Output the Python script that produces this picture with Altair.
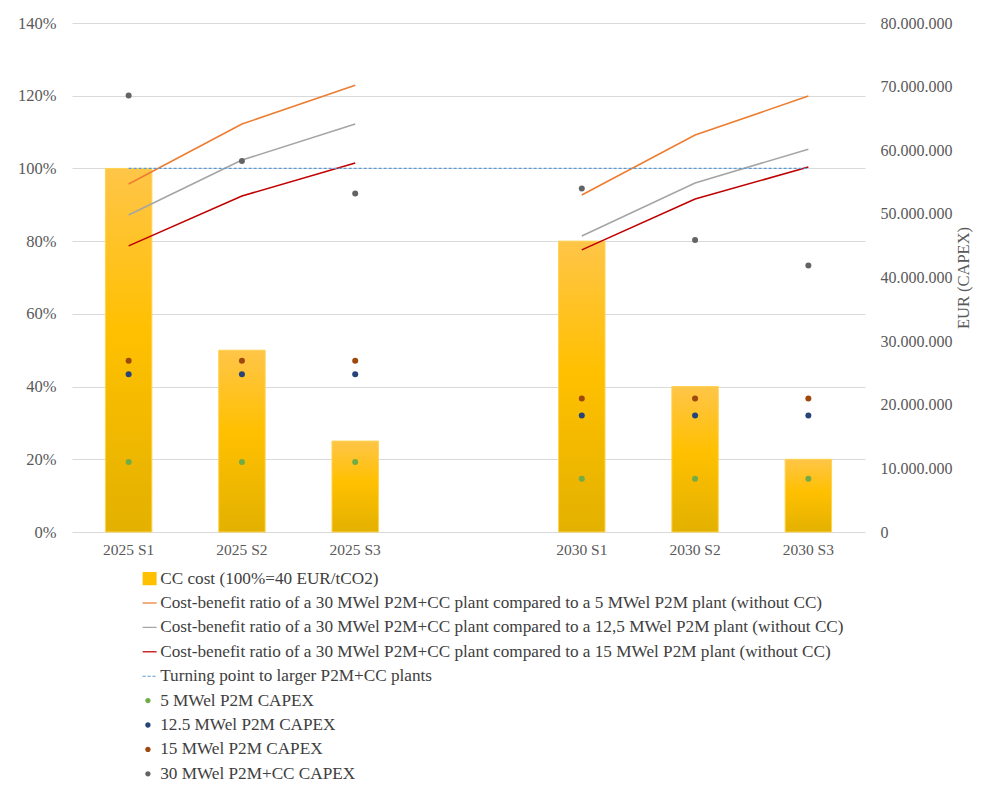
import altair as alt
import pandas as pd

categories = ["2025 S1", "2025 S2", "2025 S3", " ", "2030 S1", "2030 S2", "2030 S3"]
groups = ["2025", "2025", "2025", None, "2030", "2030", "2030"]

cc_cost = [1.00, 0.50, 0.25, None, 0.80, 0.40, 0.20]
ratio_5 = [0.957, 1.122, 1.229, None, 0.927, 1.092, 1.199]
ratio_125 = [0.872, 1.023, 1.122, None, 0.814, 0.960, 1.053]
ratio_15 = [0.787, 0.924, 1.015, None, 0.776, 0.916, 1.004]
turning = [1.0, 1.0, 1.0, 1.0, 1.0, 1.0, 1.0]

capex_5 = [11.0e6, 11.0e6, 11.0e6, None, 8.35e6, 8.35e6, 8.35e6]
capex_125 = [24.8e6, 24.8e6, 24.8e6, None, 18.3e6, 18.3e6, 18.3e6]
capex_15 = [26.9e6, 26.9e6, 26.9e6, None, 21.0e6, 21.0e6, 21.0e6]
capex_30 = [68.6e6, 58.3e6, 53.2e6, None, 54.0e6, 45.9e6, 41.9e6]

names = [
    "CC cost (100%=40 EUR/tCO2)",
    "Cost-benefit ratio of a 30 MWel P2M+CC plant compared to a 5 MWel P2M plant (without CC)",
    "Cost-benefit ratio of a 30 MWel P2M+CC plant compared to a 12,5 MWel P2M plant (without CC)",
    "Cost-benefit ratio of a 30 MWel P2M+CC plant compared to a 15 MWel P2M plant (without CC)",
    "Turning point to larger P2M+CC plants",
    "5 MWel P2M CAPEX",
    "12.5 MWel P2M CAPEX",
    "15 MWel P2M CAPEX",
    "30 MWel P2M+CC CAPEX",
]
colors = ["#FFC000", "#ED7D31", "#A5A5A5", "#C00000", "#5B9BD5",
          "#70AD47", "#264478", "#9E480E", "#636363"]

sq = "M-1,-0.95H1V0.95H-1Z"
ln = "M-1,-0.09H1V0.09H-1Z"
dash = "M-1,-0.08H-0.55V0.08H-1Z M-0.3,-0.08H0.15V0.08H-0.3Z M0.4,-0.08H0.85V0.08H0.4Z"
dot = "M-0.62,0A0.38,0.38 0 1,1 0.14,0A0.38,0.38 0 1,1 -0.62,0Z"
shapes = [sq, ln, ln, ln, dash, dot, dot, dot, dot]

FONT = "Liberation Serif"
GREY = "#595959"

bars_df = pd.DataFrame({"cat": categories, "val": cc_cost}).dropna()

line_rows = []
for nm, vals in zip(names[1:4], [ratio_5, ratio_125, ratio_15]):
    for c, g, v in zip(categories, groups, vals):
        if v is not None:
            line_rows.append({"cat": c, "grp": g, "series": nm, "val": v})
lines_df = pd.DataFrame(line_rows)

turn_df = pd.DataFrame({"cat": categories, "val": turning, "series": names[4]})

pt_rows = []
for nm, vals in zip(names[5:], [capex_5, capex_125, capex_15, capex_30]):
    for c, v in zip(categories, vals):
        if v is not None:
            pt_rows.append({"cat": c, "series": nm, "eur": v})
pts_df = pd.DataFrame(pt_rows)

legend_df = pd.DataFrame({"series": names, "cat": categories[3], "val": 0.0})

x_enc = alt.X("cat:N", sort=categories,
              scale=alt.Scale(domain=categories, paddingInner=0.59, paddingOuter=0.295),
              axis=alt.Axis(title=None, labelAngle=0, domain=False, ticks=False,
                            labelPadding=10, labelFontSize=15.5))
y_left = alt.Y("val:Q", scale=alt.Scale(domain=[0, 1.4], nice=False),
               axis=alt.Axis(title=None, format=".0%", values=[0, 0.2, 0.4, 0.6, 0.8, 1.0, 1.2, 1.4],
                             grid=True, gridColor="#D9D9D9", domain=False, ticks=False,
                             labelPadding=16, labelFontSize=16.5))

gradient = alt.Gradient(
    gradient="linear",
    stops=[alt.GradientStop(color="#FFC548", offset=0),
           alt.GradientStop(color="#FFC000", offset=0.45),
           alt.GradientStop(color="#E3B100", offset=1)],
    x1=0, x2=0, y1=0, y2=1,
)

bars = alt.Chart(bars_df).mark_bar(color=gradient, stroke="#FFD34F", strokeWidth=1).encode(
    x=x_enc, y=y_left)

stroke_scale = alt.Scale(domain=names[1:5], range=colors[1:5])
fill_scale = alt.Scale(domain=names[5:], range=colors[5:])

lines = alt.Chart(lines_df).mark_line(strokeWidth=1.6).encode(
    x=x_enc, y="val:Q",
    stroke=alt.Stroke("series:N", scale=stroke_scale, legend=None),
    detail="grp:N")

turn = alt.Chart(turn_df).mark_line(strokeWidth=1.3, strokeDash=[3, 2]).encode(
    x=x_enc, y="val:Q",
    stroke=alt.Stroke("series:N", scale=stroke_scale, legend=None))

leg = alt.Legend(title=None, orient="none", legendX=69, legendY=547,
                 direction="vertical", symbolSize=196, symbolOpacity=1,
                 symbolStrokeWidth=0, labelFont=FONT, labelFontSize=17.2,
                 labelColor="#404040", labelOffset=2, rowPadding=6.4,
                 padding=0, labelLimit=900)

legend_layer = alt.Chart(legend_df).mark_point(filled=True, opacity=0).encode(
    x=x_enc, y="val:Q",
    color=alt.Color("series:N", scale=alt.Scale(domain=names, range=colors), legend=leg),
    shape=alt.Shape("series:N", scale=alt.Scale(domain=names, range=shapes), legend=leg))

left = alt.layer(bars, lines, turn, legend_layer)

points = alt.Chart(pts_df).mark_circle(size=36, opacity=1).encode(
    x=x_enc,
    y=alt.Y("eur:Q", scale=alt.Scale(domain=[0, 80e6], nice=False),
            axis=alt.Axis(orient="right", title="EUR (CAPEX)", format=",.0f",
                          values=[i * 10e6 for i in range(9)], grid=False,
                          domain=False, ticks=False, labelPadding=15,
                          titleAngle=270, titlePadding=19, titleFontWeight="normal",
                          titleFont=FONT, titleFontSize=16.5, titleColor=GREY)),
    fill=alt.Fill("series:N", scale=fill_scale, legend=None))

chart = alt.layer(left, points).resolve_scale(y="independent").properties(
    width=793, height=509,
    padding={"left": 64, "top": 15, "right": 109, "bottom": 260},
    autosize=alt.AutoSizeParams(type="none"),
).configure(
    locale={"number": {"decimal": ",", "thousands": ".", "grouping": [3], "currency": ["", " €"]}}
).configure_view(stroke=None).configure_axis(
    labelFont=FONT, labelFontSize=16, labelColor=GREY, titleFont=FONT
)

chart.save("out.html", embed_options={"renderer": "svg", "actions": False})
